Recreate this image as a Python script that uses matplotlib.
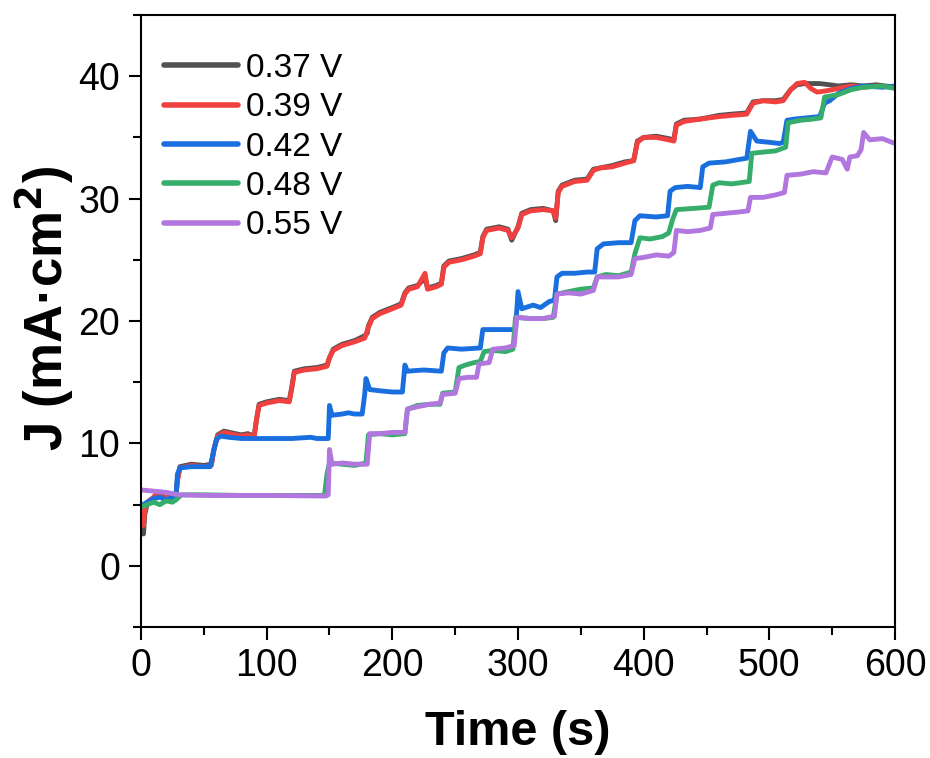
import matplotlib
matplotlib.use('Agg')
import matplotlib.pyplot as plt
from matplotlib.ticker import MultipleLocator

plt.rcParams['font.family'] = ['Liberation Sans', 'DejaVu Sans']

# chronoamperometry traces (time in s, J in mA cm^-2)
t_037 = [0, 1, 2, 3, 5, 10, 13, 16, 20, 25, 28, 29, 31, 40, 50, 56, 58, 61, 66, 75, 80, 85, 90,
         92, 94, 100, 110, 118, 120, 122, 130, 140, 148, 150, 153, 160, 170, 178, 180, 181, 184,
         190, 200, 207, 210, 213, 220, 226, 228, 235, 239, 241, 245, 255, 265, 270, 272, 275, 285,
         292, 295, 300, 303, 310, 320, 328, 330, 332, 335, 345, 355, 360, 365, 375, 385, 392, 395,
         400, 410, 420, 424, 426, 432, 445, 460, 470, 482, 487, 495, 505, 511, 517, 522, 528, 533,
         540, 548, 555, 565, 575, 585, 600]
j_037 = [4.6, 3.2, 2.6, 4.2, 5.1, 5.5, 5.9, 5.8, 5.5, 5.8, 5.9, 7.0, 8.1, 8.3, 8.2, 8.3, 9.5, 10.7,
         11.0, 10.8, 10.7, 10.8, 10.6, 12.0, 13.2, 13.4, 13.6, 13.5, 14.6, 15.9, 16.1, 16.2, 16.4,
         17.0, 17.7, 18.1, 18.4, 18.8, 19.0, 19.6, 20.3, 20.7, 21.1, 21.4, 22.3, 22.7, 22.9, 23.5,
         22.7, 22.9, 23.1, 24.5, 24.9, 25.1, 25.4, 25.6, 26.9, 27.5, 27.7, 27.5, 26.6, 27.7, 28.8,
         29.1, 29.2, 29.0, 28.2, 30.6, 31.1, 31.5, 31.6, 32.4, 32.5, 32.7, 33.0, 33.1, 34.7, 35.0,
         35.1, 34.9, 34.8, 36.1, 36.4, 36.5, 36.8, 36.9, 37.0, 37.9, 38.0, 38.0, 38.1, 38.9, 39.3,
         39.4, 39.4, 39.4, 39.3, 39.2, 39.3, 39.2, 39.3, 39.1]

t_039 = [0, 1, 2, 3, 5, 10, 13, 16, 20, 25, 28, 29, 31, 40, 50, 56, 58, 61, 66, 75, 80, 85, 90,
         92, 94, 100, 110, 118, 120, 122, 130, 140, 148, 150, 153, 160, 170, 178, 181, 184, 190,
         200, 207, 210, 213, 220, 226, 228, 235, 239, 241, 245, 255, 265, 270, 272, 275, 285, 292,
         295, 300, 303, 310, 320, 328, 330, 332, 335, 345, 355, 360, 365, 375, 385, 392, 395, 400,
         410, 420, 424, 426, 432, 445, 460, 470, 482, 487, 495, 505, 511, 517, 522, 528, 533, 538,
         545, 555, 565, 575, 585, 600]
j_039 = [5.0, 4.0, 3.3, 4.5, 5.2, 5.6, 6.0, 5.7, 5.5, 5.7, 5.8, 7.0, 8.0, 8.2, 8.1, 8.2, 9.5, 10.6,
         10.9, 10.7, 10.6, 10.7, 10.5, 12.0, 13.1, 13.3, 13.5, 13.4, 14.5, 15.8, 16.0, 16.1, 16.3,
         17.0, 17.6, 18.0, 18.3, 18.6, 19.5, 20.2, 20.6, 21.0, 21.3, 22.2, 22.6, 22.8, 23.9, 22.6,
         22.8, 23.0, 24.4, 24.8, 25.0, 25.3, 25.5, 26.8, 27.4, 27.6, 27.4, 26.8, 27.6, 28.7, 29.0,
         29.1, 29.0, 28.4, 30.5, 31.0, 31.4, 31.5, 32.3, 32.5, 32.6, 32.9, 33.1, 34.6, 35.0, 35.0,
         34.8, 34.7, 36.0, 36.3, 36.5, 36.7, 36.8, 36.9, 37.8, 38.0, 37.9, 38.0, 38.9, 39.4, 39.5,
         39.0, 38.7, 38.8, 39.0, 39.2, 39.1, 39.2, 39.1]

t_042 = [0, 5, 10, 15, 20, 25, 28, 29, 31, 40, 50, 55, 57, 60, 63, 70, 80, 100, 120, 135, 140, 149,
         150, 152, 160, 165, 170, 176, 178, 179, 182, 190, 200, 208, 210, 212, 225, 239, 241, 244,
         255, 270, 272, 285, 298, 300, 303, 312, 318, 325, 329, 331, 335, 345, 355, 361, 363, 368,
         380, 390, 393, 397, 410, 419, 421, 425, 435, 445, 447, 452, 465, 476, 482, 485, 490, 500,
         508, 511, 514, 520, 530, 540, 544, 548, 555, 565, 575, 590, 600]
j_042 = [4.9, 5.2, 5.5, 5.6, 5.4, 5.6, 5.9, 7.5, 8.0, 8.1, 8.1, 8.1, 9.0, 10.3, 10.6, 10.5, 10.4,
         10.4, 10.4, 10.5, 10.4, 10.4, 13.1, 12.3, 12.4, 12.5, 12.4, 12.4, 14.0, 15.3, 14.4, 14.3,
         14.2, 14.2, 16.4, 15.9, 16.0, 15.9, 17.4, 17.8, 17.7, 17.8, 19.3, 19.3, 19.3, 22.4, 21.0,
         21.3, 21.1, 21.6, 21.7, 23.6, 23.9, 23.9, 24.0, 24.0, 25.9, 26.3, 26.4, 26.4, 28.2, 28.6,
         28.5, 28.6, 30.6, 30.9, 31.0, 30.9, 32.6, 32.9, 33.0, 33.2, 33.3, 35.5, 34.7, 34.6, 34.5,
         34.6, 36.4, 36.5, 36.6, 36.7, 37.8, 38.0, 38.6, 39.0, 39.2, 39.1, 39.2]

t_048 = [0, 5, 10, 15, 20, 25, 28, 32, 50, 80, 120, 146, 148, 150, 160, 170, 179, 181, 190, 200,
         210, 212, 220, 230, 238, 240, 250, 253, 258, 265, 270, 273, 280, 290, 296, 298, 310, 320,
         328, 331, 340, 350, 360, 363, 370, 380, 390, 393, 397, 405, 415, 420, 423, 426, 440, 452,
         455, 460, 470, 484, 486, 495, 505, 513, 515, 525, 535, 541, 544, 555, 565, 575, 590, 600]
j_048 = [4.8, 5.0, 5.2, 5.0, 5.3, 5.2, 5.4, 5.8, 5.8, 5.75, 5.75, 5.75, 7.5, 8.4, 8.3, 8.2, 8.4,
         10.7, 10.8, 10.7, 10.8, 12.8, 13.1, 13.2, 13.2, 14.1, 14.2, 16.2, 16.4, 16.6, 16.7, 17.5,
         17.6, 17.5, 17.7, 20.3, 20.2, 20.2, 20.3, 22.2, 22.4, 22.6, 22.7, 23.6, 23.8, 23.7, 24.0,
         25.5, 26.8, 26.7, 26.9, 27.2, 28.3, 29.1, 29.2, 29.3, 31.1, 31.3, 31.2, 31.4, 33.7, 33.8,
         33.9, 34.2, 36.2, 36.4, 36.5, 36.6, 38.3, 38.5, 38.9, 39.1, 39.2, 39.0]

t_055 = [0, 10, 20, 30, 50, 100, 147, 149, 150, 152, 160, 170, 180, 182, 190, 200, 210, 212, 220,
         230, 238, 240, 250, 253, 260, 267, 269, 277, 280, 290, 297, 299, 310, 320, 329, 331, 340,
         350, 360, 363, 370, 380, 390, 393, 400, 410, 420, 424, 426, 435, 445, 453, 455, 465, 475,
         483, 485, 495, 505, 512, 514, 525, 535, 545, 550, 558, 562, 564, 570, 573, 575, 580, 590,
         600]
j_055 = [6.2, 6.1, 6.0, 5.8, 5.75, 5.75, 5.7, 5.8, 9.5, 8.3, 8.4, 8.3, 8.3, 10.8, 10.8, 10.9,
         10.9, 12.8, 13.0, 13.2, 13.3, 14.0, 14.1, 15.3, 15.4, 15.4, 16.5, 16.6, 17.7, 17.8, 18.0,
         20.3, 20.2, 20.2, 20.4, 22.2, 22.3, 22.2, 22.5, 23.6, 23.6, 23.6, 23.8, 25.1, 25.2, 25.4,
         25.3, 25.6, 27.4, 27.3, 27.4, 27.6, 28.7, 28.8, 28.9, 29.0, 30.1, 30.1, 30.3, 30.5, 31.9,
         32.0, 32.2, 32.1, 33.4, 33.2, 32.4, 33.4, 33.5, 34.0, 35.4, 34.8, 34.9, 34.5]

labels = ['0.37 V', '0.39 V', '0.42 V', '0.48 V', '0.55 V']
colors = ['#515151', '#F14040', '#1A6FDF', '#37AD6B', '#B177DE']

fig = plt.figure(figsize=(9.3, 7.58), dpi=100)
ax = fig.add_axes([0.1516, 0.1728, 0.8108, 0.8074])

series = [(t_037, j_037), (t_039, j_039), (t_042, j_042), (t_048, j_048), (t_055, j_055)]
for (t, j), lab, c in zip(series, labels, colors):
    ax.plot(t, j, color=c, lw=3.5, label=lab, solid_joinstyle='round')

ax.set_xlim(0, 600)
ax.set_ylim(-5, 45)
ax.xaxis.set_major_locator(MultipleLocator(100))
ax.xaxis.set_minor_locator(MultipleLocator(50))
ax.yaxis.set_major_locator(MultipleLocator(10))
ax.yaxis.set_minor_locator(MultipleLocator(5))

for sp in ax.spines.values():
    sp.set_linewidth(1.5)
ax.tick_params(which='major', direction='out', length=9, width=1.5, labelsize=27, pad=6)
ax.tick_params(which='minor', direction='out', length=5.5, width=1.5)

ax.set_xlabel('Time (s)', fontsize=35, fontweight='bold', labelpad=19)
ax.set_ylabel('J (mA·cm$^\\mathbf{2}$)', fontsize=38, fontweight='bold', labelpad=2)
ax.yaxis.label.set_y(0.52)

# legend sits top left without a frame
leg = ax.legend(loc='upper left', bbox_to_anchor=(0.0, 0.976), frameon=False, fontsize=24,
                handlelength=2.2, handletextpad=0.25, labelspacing=0.25, borderaxespad=0.3)
for h in leg.get_lines():
    h.set_linewidth(4)
    h.set_solid_capstyle('round')

fig.savefig('out.png', dpi=100)
